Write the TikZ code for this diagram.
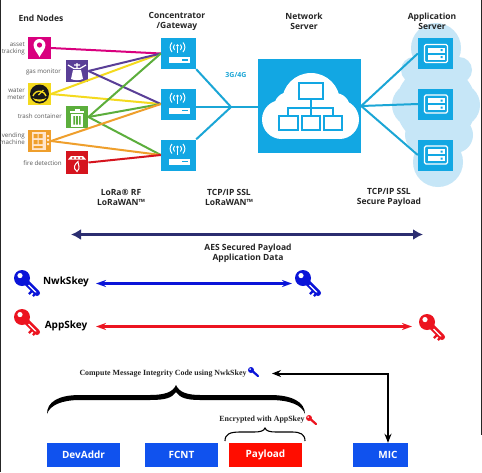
\documentclass[tikz,border=0pt]{standalone}
\usepackage{fontspec}
\setmainfont{Open Sans}
\newfontfamily\capfont{Liberation Serif}
\usetikzlibrary{arrows.meta}
\definecolor{skyblue}{HTML}{12A7E3}
\definecolor{paleblue}{HTML}{C6E6F7}
\definecolor{linkblue}{HTML}{1BA6D6}
\definecolor{navy}{HTML}{2B2D70}
\definecolor{fieldblue}{HTML}{1052EE}
\definecolor{keyblue}{HTML}{0A14D8}
\definecolor{keyred}{HTML}{EC1420}
\definecolor{pinkc}{HTML}{D9007E}
\definecolor{purplec}{HTML}{5A3F97}
\definecolor{yellowc}{HTML}{F4DA1E}
\definecolor{greenc}{HTML}{5CAE3C}
\definecolor{orangec}{HTML}{EF9F2C}
\definecolor{redc}{HTML}{D5141E}
\tikzset{
  iconbox/.style={minimum size=22.5pt,inner sep=0pt,fill=#1},
  gatebox/.style={minimum width=35pt,minimum height=31pt,inner sep=0pt,fill=skyblue},
  fieldbox/.style={minimum height=24pt,inner sep=0pt,fill=#1,text=white,font=\fontsize{10}{11}\selectfont\bfseries},
  title/.style={align=center,font=\fontsize{8.5}{10}\selectfont\bfseries,text=black!85},
  tag/.style={align=right,anchor=east,inner sep=0pt,font=\fontsize{6.2}{6.8}\selectfont,text=black!65},
  keyname/.style={font=\fontsize{10}{11}\selectfont\bfseries,text=black},
  serifcap/.style={font=\capfont\fontsize{7.9}{9}\selectfont\bfseries,text=black!85},
  feed/.style={line width=2pt,#1},
  link/.style={line width=2pt,linkblue},
  keyicon/.pic={
    \fill[#1] (0,0) circle (8);
    \fill[white] (-2,-2.4) circle (2.6);
    \draw[#1,line width=6pt,line cap=round] (4,4) -- (15,15);
    \draw[white,line width=1.2pt] (6.5,7) -- (14,14.5);
    \draw[#1,line width=2.4pt] (10,13) -- (7,16) (14,15) -- (11,18);
  },
  minikey/.pic={
    \fill[#1] (0,0) circle (3);
    \fill[white] (-0.8,-0.9) circle (0.9);
    \draw[#1,line width=2.2pt,line cap=round] (2,1.6) -- (7,6);
  },
  gateicon/.pic={
    \fill[white] (-1,-8) circle (1.3);
    \draw[white,line width=1.1pt] (-1,-7) -- (-1,-0.5);
    \draw[white,line width=1pt] (-4,-9) .. controls (-5.5,-7.5) and (-5.5,-5) .. (-4,-3.5)
      (2,-9) .. controls (3.5,-7.5) and (3.5,-5) .. (2,-3.5)
      (-6.5,-11) .. controls (-9,-8) and (-9,-4.5) .. (-6.5,-1.5)
      (4.5,-11) .. controls (7,-8) and (7,-4.5) .. (4.5,-1.5);
    \fill[white] (-9.5,3.5) rectangle (11.5,9.5);
    \fill[skyblue] (3,5.5) rectangle (9,7);
  },
  servericon/.pic={
    \draw[white,line width=1.4pt,rounded corners=1.5pt,fill=skyblue] (-11,-9) rectangle (12,9);
    \fill[white] (-8,-6) rectangle (9.5,-1);
    \fill[white] (-8,1) rectangle (9.5,6);
    \fill[skyblue] (5,-4.5) rectangle (7,-2.5) (5,2.5) rectangle (7,4.5);
  },
  pinicon/.pic={
    \fill[white] (-6,-3) arc (180:360:6) .. controls (6,1) and (2,5) .. (0,9) .. controls (-2,5) and (-6,1) .. (-6,-3) -- cycle;
    \fill[pinkc] (0,-3) circle (2.6);
  },
  stoveicon/.pic={
    \fill[white] (-4,-1) -- (4,-1) -- (6,8) .. controls (3,9.5) and (-3,9.5) .. (-6,8) -- cycle;
    \draw[white,line width=1.2pt] (-9,-6) -- (-3,-2.5) -- (3,-2.5) -- (9,-6) (-3,-6) -- (3,-6) (0,-8) -- (0,-3);
  },
  gaugeicon/.pic={
    \fill[black!90] (0,0) circle (9.5);
    \draw[yellowc,line width=1.4pt] (-6.5,2) arc (197:343:6.8);
    \draw[yellowc,line width=1.2pt] (-1,1) -- (4,-4);
    \fill[yellowc] (-7,4) .. controls (-3,6) and (3,6) .. (7,4) .. controls (4,9) and (-4,9) .. (-7,4) -- cycle;
  },
  binicon/.pic={
    \fill[white] (-7,-6.5) rectangle (7,-4.5);
    \fill[white] (-2.5,-8.5) rectangle (2.5,-6);
    \fill[white] (-6,-3) rectangle (6,9.5);
    \fill[greenc] (-3.6,-1) rectangle (-2,7.5) (-0.8,-1) rectangle (0.8,7.5) (2,-1) rectangle (3.6,7.5);
  },
  vendicon/.pic={
    \fill[orange!20] (-8,-9) rectangle (6,9);
    \fill[orangec] (-6,-7) rectangle (-2,-3) (-1,-7) rectangle (3,-3) (-6,-1) rectangle (-2,3) (-1,-1) rectangle (3,3) (-6,5) rectangle (3,7);
    \fill[orange!20] (7.5,-6) rectangle (9.5,-4) (7.5,-2) rectangle (9.5,0) (7.5,2) rectangle (9.5,4);
  },
  fireicon/.pic={
    \fill[white] (-9,-3) -- (-6,-6.5) -- (6,-6.5) -- (9,-3) -- cycle;
    \fill[redc] (-5,-5.2) rectangle (-3,-4) (-1,-5.2) rectangle (1,-4) (3,-5.2) rectangle (5,-4);
    \draw[white,line width=1pt] (0,9) .. controls (-5,5) and (-2,2) .. (1,-1) .. controls (1,3) and (4,5) .. (0,9) -- cycle;
  }
}
\begin{document}
\begin{tikzpicture}[x=1pt,y=-1pt]
\useasboundingbox (0,0) rectangle (482,472);
\fill[white] (0,0) rectangle (482,472);
\draw[black!85,line width=1pt] (0.5,0) -- (0.5,472);
\draw[black!85,line width=1pt] (481.5,0) -- (481.5,435);

\fill[paleblue] (436,48) circle (25) (414,70) circle (13) (459,70) circle (13)
  (414,105) circle (22) (458,105) circle (22) (436,105) circle (40)
  (422,135) circle (17) (455,135) circle (18) (438,162) circle (25);

\node[title] (endnodes) at (41,18) {End Nodes};
\node[title] (gatetitle) at (177,21) {Concentrator\\/Gateway};
\node[title] (nettitle) at (304,21) {Network\\Server};
\node[title] (apptitle) at (432,21) {Application\\Server};

\node[iconbox=pinkc] (asset) at (39.5,48) {};
\node[iconbox=purplec] (gas) at (77,71) {};
\node[iconbox=yellowc] (water) at (39.5,94) {};
\node[iconbox=greenc] (trash) at (77,117) {};
\node[iconbox=orangec] (vending) at (39.5,141) {};
\node[iconbox=redc] (fire) at (77,162.5) {};
\pic at (asset) {pinicon};
\pic at (gas) {stoveicon};
\pic at (water) {gaugeicon};
\pic at (trash) {binicon};
\pic at (vending) {vendicon};
\pic at (fire) {fireicon};

\node[tag] (assettag) at (25,49) {asset\\tracking};
\node[tag] (gastag) at (61,72) {gas monitor};
\node[tag] (watertag) at (25,94) {water\\meter};
\node[tag] (trashtag) at (62,116) {trash container};
\node[tag] (vendingtag) at (25,139) {vending\\machine};
\node[tag] (firetag) at (62,163) {fire detection};

\node[gatebox] (gw1) at (178.5,53.5) {};
\node[gatebox] (gw2) at (178.5,104) {};
\node[gatebox] (gw3) at (178.5,155) {};
\pic at (gw1) {gateicon};
\pic at (gw2) {gateicon};
\pic at (gw3) {gateicon};

\node[minimum width=103pt,minimum height=94pt,inner sep=0pt,fill=skyblue] (netbox) at (309.5,106) {};
\fill[white] (281.5,119.5) circle (19.5) (339.5,119.5) circle (19.5) (311,102) circle (29) (289,107) circle (15) (335,108) circle (15);
\fill[white] (281.5,115) rectangle (339.5,139);
\draw[skyblue,line width=1.5pt] (311,99) -- (311,116) (288,116) -- (288,108) -- (333,108) -- (333,116);
\draw[skyblue,line width=1.5pt] (299,83) rectangle (323,99) (279,116) rectangle (298,130) (302,116) rectangle (320,130) (324,116) rectangle (342,130);

\node[gatebox] (app1) at (435.5,53.5) {};
\node[gatebox] (app2) at (435.5,104) {};
\node[gatebox] (app3) at (435.5,155) {};
\pic at (app1) {servericon};
\pic at (app2) {servericon};
\pic at (app3) {servericon};

\draw[feed=pinkc] (asset.east) -- (gw1.west);
\draw[feed=yellowc] (water.east) -- (gw1.west);
\draw[feed=yellowc] (water.east) -- (gw2.west);
\draw[feed=purplec] (gas.east) -- (gw1.west);
\draw[feed=purplec] (gas.east) -- (gw2.west);
\draw[feed=greenc] (trash.east) -- (gw1.west);
\draw[feed=greenc] (trash.east) -- (gw2.west);
\draw[feed=greenc] (trash.east) -- (gw3.west);
\draw[feed=orangec] (vending.east) -- (gw2.west);
\draw[feed=orangec] (vending.east) -- (gw3.west);
\draw[feed=redc] (fire.east) -- (gw3.west);

\coordinate (hub) at (231,107);
\draw[link] (gw1.south east) -- (hub);
\draw[link] (gw2.east |- hub) -- (hub);
\draw[link] (gw3.north east) -- (hub);
\draw[link] (hub) -- (hub -| netbox.west);
\draw[link] (netbox.east) -- (app1.west);
\draw[link] (netbox.east) -- (app2.west);
\draw[link] (netbox.east) -- (app3.west);
\node[font=\fontsize{7}{8}\selectfont\bfseries,text=linkblue] (cell) at (236,75) {3G/4G};

\node[title] (rflabel) at (121,197) {LoRa® RF\\LoRaWAN™};
\node[title] (ssllabel) at (229,197) {TCP/IP SSL\\LoRaWAN™};
\node[title] (paylabel) at (389,197) {TCP/IP SSL\\Secure Payload};

\coordinate (aesl) at (71,234.5);
\coordinate (aesr) at (423,234.5);
\draw[navy,line width=3pt,{Latex[length=10pt,width=11pt]}-{Latex[length=10pt,width=11pt]}] (aesl) -- (aesr);
\node[title] (aeslabel) at (248,253) {AES Secured Payload\\Application Data};

\pic at (22,278) {keyicon=keyblue};
\pic at (303,278) {keyicon=keyblue};
\pic at (22,317) {keyicon=keyred};
\pic at (427,322) {keyicon=keyred};
\node[keyname] (nwk) at (66,282) {NwkSkey};
\node[keyname] (app) at (66,326) {AppSkey};

\coordinate (nwkl) at (96,283.5);
\coordinate (nwkr) at (292,283.5);
\coordinate (appl) at (96,326.5);
\coordinate (appr) at (412,326.5);
\draw[keyblue,line width=2.2pt,{Stealth[length=10pt,width=7pt]}-{Stealth[length=10pt,width=7pt]}] (nwkl) -- (nwkr);
\draw[keyred,line width=2.2pt,{Stealth[length=10pt,width=7pt]}-{Stealth[length=10pt,width=7pt]}] (appl) -- (appr);

\node[serifcap] (compute) at (163,373.5) {Compute Message Integrity Code using NwkSkey};
\pic at (251,370) {minikey=keyblue};
\node[serifcap] (encrypted) at (262,420) {Encrypted with AppSkey};
\pic at (309,418) {minikey=keyred};

\fill[black] (47,414) .. controls (47,402) and (58,395) .. (80,395) -- (150,395) .. controls (165,395) and (173,392) .. (176,385)
  .. controls (179,392) and (187,395) .. (200,395) -- (270,395) .. controls (292,395) and (305,402) .. (305,414)
  .. controls (302,405) and (290,400) .. (270,400) -- (200,400) .. controls (187,400) and (180,398) .. (176,392)
  .. controls (172,398) and (165,400) .. (150,400) -- (80,400) .. controls (62,400) and (50,405) .. (47,414) -- cycle;
\draw[black,line width=1.1pt] (225,441) .. controls (225,434) and (230,432) .. (240,432) -- (254,432) .. controls (260,432) and (264,431) .. (265,428)
  .. controls (266,431) and (270,432) .. (276,432) -- (292,432) .. controls (300,432) and (305,434) .. (305,441);

\node[fieldbox=fieldblue,minimum width=73pt] (devaddr) at (83.5,455) {DevAddr};
\node[fieldbox=fieldblue,minimum width=73pt] (fcnt) at (181.5,455) {FCNT};
\node[fieldbox=red!90!orange,minimum width=73pt] (payload) at (265.5,455) {Payload};
\node[fieldbox=fieldblue,minimum width=55pt] (mic) at (380.5,455) {};
\node[text=white,inner sep=0pt,font=\fontsize{10}{11}\selectfont\bfseries] (miclabel) at (388,455) {MIC};

\coordinate (micend) at (272,373.5);
\draw[black,line width=2pt,{Stealth[length=9pt,width=7pt]}-{Stealth[length=9pt,width=7pt]}] (miclabel |- mic.north) |- (micend);
\end{tikzpicture}
\end{document}
